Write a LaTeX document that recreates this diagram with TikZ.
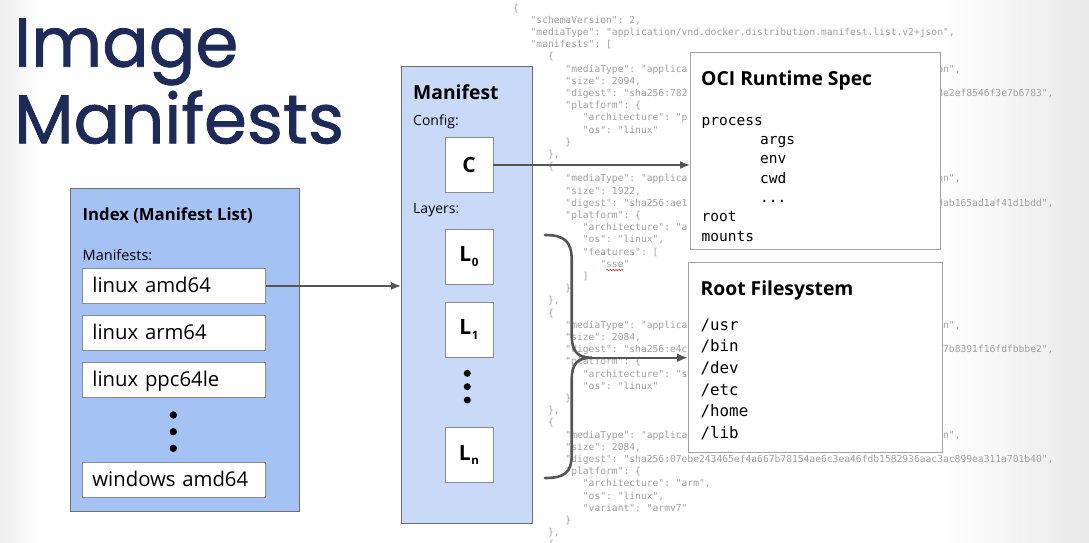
\documentclass[tikz,border=0pt]{standalone}
\usepackage{fontspec}
\setmainfont{Open Sans}
\setmonofont{DejaVu Sans Mono}
\newfontfamily\titlefont{Poppins}[FakeBold=1.2]
\usetikzlibrary{arrows.meta,decorations.pathmorphing}

\definecolor{titleblue}{HTML}{1D2B59}
\definecolor{indexblue}{HTML}{A4C2F4}
\definecolor{manifestblue}{HTML}{C9DAF8}
\definecolor{frame}{HTML}{6E6E6E}
\definecolor{entryframe}{HTML}{8C8C8C}
\definecolor{docframe}{HTML}{A3A3A3}
\definecolor{jsongray}{HTML}{A0A0A0}
\definecolor{arrowgray}{HTML}{555555}
\definecolor{edgegray}{HTML}{E9E9E9}

\newcommand{\fs}[1]{\fontsize{#1}{#1}\selectfont}
% one line of the JSON manifest list: name, indent level, line number, text
\newcommand{\jline}[4]{\node[json] (#1) at ({513+17.43*#2},{11+12.2*#3}) {#4};}
% the end of a JSON line, right of the boxes: name, column, line number, text
\newcommand{\jtail}[4]{\node[json] (#1) at ({565.3+5.81*#2},{11+12.2*#3}) {#4};}
% layer label with its index
\newcommand{\layerlabel}[1]{L\kern0.6pt\raisebox{-4.5pt}{\fs{11.5}#1}}

\begin{document}
\begin{tikzpicture}[x=1pt,y=-1pt,
  json/.style={anchor=base west, inner sep=0pt, text=jsongray, font=\ttfamily\fs{9.65}},
  panel/.style={draw=frame, line width=1.1pt, anchor=north west, inner sep=0pt},
  entry/.style={draw=entryframe, fill=white, line width=0.9pt, anchor=north west,
    minimum height=35pt, text width=163pt, inner xsep=10pt, inner ysep=0pt,
    align=left, font=\fs{20.3}, text height=15.5pt, text depth=2.8pt},
  layerbox/.style={draw=entryframe, fill=white, line width=0.9pt,
    minimum width=48pt, minimum height=55pt, inner sep=0pt, font=\bfseries\fs{21}},
  docbox/.style={draw=docframe, fill=white, line width=1.2pt, anchor=north west, inner sep=0pt},
  label/.style={anchor=base west, inner sep=0pt},
  dot/.style={circle, fill=black, inner sep=0pt, minimum size=7.4pt},
  smalldot/.style={circle, fill=black, inner sep=0pt, minimum size=7pt},
  link/.style={draw=arrowgray, line width=1.6pt, -{Latex[length=10pt,width=8pt]}},
  brace/.style={draw=arrowgray, line width=2.6pt, line cap=round},
]
\useasboundingbox (0,0) rectangle (1089,542);
\fill[white] (0,0) rectangle (1089,542);
\shade[left color=white, right color=edgegray] (940,0) rectangle (1089,542);
\shade[left color=edgegray!80, right color=white] (0,0) rectangle (40,542);

% the manifest list as JSON
\jline{j0}{0}{0}{\{}
\jline{j1}{1}{1}{"schemaVersion": 2,}
\jline{j2}{1}{2}{"mediaType": "application/vnd.docker.distribution.manifest.list.v2+json",}
\jline{j3}{1}{3}{"manifests": [}
\jline{j4}{2}{4}{\{}
\jline{j5}{3}{5}{"mediaType": "applica}
\jtail{t5}{64}{5}{on",}
\jline{j6}{3}{6}{"size": 2094,}
\jline{j7}{3}{7}{"digest": "sha256:782}
\jtail{t7}{64}{7}{8e2ef8546f3e7b6783",}
\jline{j8}{3}{8}{"platform": \{}
\jline{j9}{4}{9}{"architecture": "p}
\jline{j10}{4}{10}{"os": "linux"}
\jline{j11}{3}{11}{\}}
\jline{j12}{2}{12}{\},}
\jline{j13}{2}{13}{\{}
\jline{j14}{3}{14}{"mediaType": "applica}
\jtail{t14}{64}{14}{on",}
\jline{j15}{3}{15}{"size": 1922,}
\jline{j16}{3}{16}{"digest": "sha256:ae1}
\jtail{t16}{64}{16}{9ab165ad1af41d1bdd",}
\jline{j17}{3}{17}{"platform": \{}
\jline{j18}{4}{18}{"architecture": "a}
\jline{j19}{4}{19}{"os": "linux",}
\jline{j20}{4}{20}{"features": [}
\jline{sse}{5}{21}{"sse"}
\jline{j22}{4}{22}{]}
\jline{j23}{3}{23}{\}}
\jline{j24}{2}{24}{\},}
\jline{j25}{2}{25}{\{}
\jline{j26}{3}{26}{"mediaType": "applica}
\jtail{t26}{64}{26}{on",}
\jline{j27}{3}{27}{"size": 2084,}
\jline{j28}{3}{28}{"digest": "sha256:e4c}
\jtail{t28}{65}{28}{7b8391f16fdfbbbe2",}
\jline{j29}{3}{29}{"platform": \{}
\jline{j30}{4}{30}{"architecture": "s}
\jline{j31}{4}{31}{"os": "linux"}
\jline{j32}{3}{32}{\}}
\jline{j33}{2}{33}{\},}
\jline{j34}{2}{34}{\{}
\jline{j35}{3}{35}{"mediaType": "applica}
\jtail{t35}{64}{35}{on",}
\jline{j36}{3}{36}{"size": 2084,}
\jline{j37}{3}{37}{"digest": "sha256:07ebe243465ef4a667b78154ae6c3ea46fdb1582936aac3ac899ea311a701b40",}
\jline{j38}{3}{38}{"platform": \{}
\jline{j39}{4}{39}{"architecture": "arm",}
\jline{j40}{4}{40}{"os": "linux",}
\jline{j41}{4}{41}{"variant": "armv7"}
\jline{j42}{3}{42}{\}}
\jline{j43}{2}{43}{\},}
\jline{j44}{2}{44}{\{}
% spell-check squiggle
\draw[red!85!black, line width=0.5pt, decorate,
  decoration={snake, amplitude=0.7pt, segment length=3pt}]
  ([xshift=6pt,yshift=-2.8pt]sse.base west) -- ([xshift=-6pt,yshift=-2.8pt]sse.base east);

% title
\node[label, font=\titlefont\fs{69}, text=titleblue] (title1) at (14,66.7) {Image};
\node[label, font=\titlefont\fs{69}, text=titleblue] (title2) at (14,143.3) {Manifests};

% index (manifest list)
\node[panel, fill=indexblue, minimum width=229pt, minimum height=323pt] (index) at (70,188) {};
\node[label, font=\bfseries\fs{16.7}] (indextitle) at (82.5,220) {Index (Manifest List)};
\node[label, font=\fs{14.5}] (indexlabel) at (82.5,260) {Manifests:};
\node[entry] (m1) at (82,268) {linux amd64};
\node[entry] (m2) at (82,315) {linux arm64};
\node[entry] (m3) at (82,362) {linux ppc64le};
\node[dot] (md1) at (173.3,415) {};
\node[dot] (md2) at (173.3,431.7) {};
\node[dot] (md3) at (173.3,448.3) {};
\node[entry] (m4) at (82,462) {windows amd64};

% manifest
\node[panel, fill=manifestblue, minimum width=131pt, minimum height=457pt] (manifest) at (401,66) {};
\node[label, font=\bfseries\fs{19.3}] (manifesttitle) at (413,99.3) {Manifest};
\node[label, font=\fs{14}] (configlabel) at (413,125.7) {Config:};
\node[layerbox] (config) at (469,165) {C};
\node[label, font=\fs{14}] (layerslabel) at (413,213.3) {Layers:};
\node[layerbox] (l0) at (469,256.7) {\layerlabel{0}};
\node[layerbox] (l1) at (469,329.5) {\layerlabel{1}};
\node[smalldot] (ld1) at (467.3,373.3) {};
\node[smalldot] (ld2) at (467.3,386.7) {};
\node[smalldot] (ld3) at (467.3,400) {};
\node[layerbox] (ln) at (469,455) {\layerlabel{n}};

% OCI runtime spec
\node[docbox, minimum width=250pt, minimum height=197pt] (oci) at (690,52) {};
\node[label, font=\bfseries\fs{19.3}] (ocititle) at (701,85) {OCI Runtime Spec};
\begin{scope}[every node/.style={label, font=\ttfamily\fs{14.5}}]
  \node (process) at (701.5,125) {process};
  \node (args) at (760,144.3) {args};
  \node (env) at (760,163.7) {env};
  \node (cwd) at (760,183) {cwd};
  \node (more) at (760,202.3) {...};
  \node (root) at (701.5,221.7) {root};
  \node (mounts) at (701.5,241) {mounts};
\end{scope}

% root filesystem
\node[docbox, minimum width=254pt, minimum height=190pt] (rootfs) at (688,262) {};
\node[label, font=\bfseries\fs{19.3}] (rootfstitle) at (700.5,295) {Root Filesystem};
\begin{scope}[every node/.style={label, font=\ttfamily\fs{15.8}}]
  \node (usr) at (700.5,330) {/usr};
  \node (bin) at (700.5,351.7) {/bin};
  \node (dev) at (700.5,373.4) {/dev};
  \node (etc) at (700.5,395.1) {/etc};
  \node (home) at (700.5,416.8) {/home};
  \node (lib) at (700.5,438.5) {/lib};
\end{scope}

% connectors
\draw[link] (m1.east) -- (m1.east -| manifest.west);
\draw[link] (config.east) -- (config.east -| oci.west);

\coordinate (bracetop) at (545,235);
\coordinate (bracetip) at (592,357.7);
\coordinate (bracebot) at (545,478);
\draw[brace] (bracetop) .. controls (565,235) and (571.7,242) .. (571.7,260)
  -- (571.7,335) .. controls (571.7,351) and (577,357.7) .. (bracetip)
  .. controls (577,357.7) and (571.7,364) .. (571.7,380)
  -- (571.7,455) .. controls (571.7,472) and (565,478) .. (bracebot);
\draw[link, line width=2.4pt, -{Latex[length=11pt,width=9pt]}] (bracetip) -- (bracetip -| rootfs.west);
\end{tikzpicture}
\end{document}
